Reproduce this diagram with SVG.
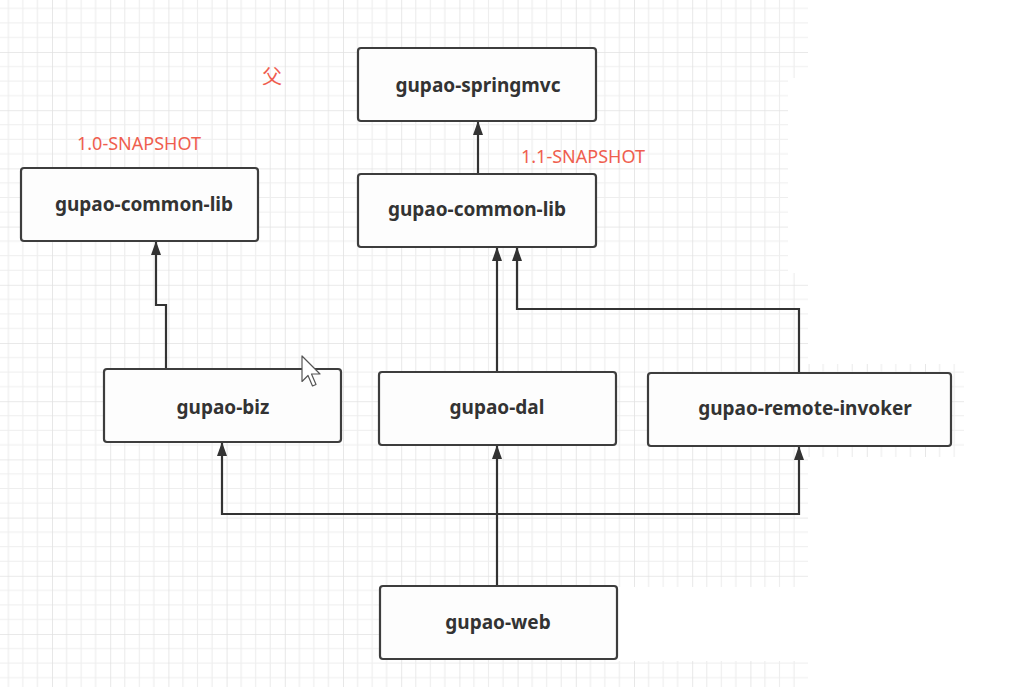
<svg xmlns="http://www.w3.org/2000/svg" width="1018" height="687" viewBox="0 0 1018 687">
<style>
.node rect{fill:#fdfdfd;stroke:#3d3d3d;stroke-width:2.2}
.node text{font-family:"Noto Sans","Liberation Sans",sans-serif;font-weight:bold;font-size:19px;fill:#333;text-anchor:middle}
.lbl{font-family:"Noto Sans","Liberation Sans",sans-serif;font-size:18px;fill:#ef5e4f}
.cn path{fill:none;stroke:#333;stroke-width:2.2}
</style>
<defs>
<pattern id="grid" patternUnits="userSpaceOnUse" x="52" y="52" width="58.2" height="58.2">
<path d="M14.55,0V58.2M29.1,0V58.2M43.65,0V58.2M0,14.55H58.2M0,29.1H58.2M0,43.65H58.2" stroke="#eeeeee" stroke-width="1.2" fill="none"/>
<path d="M0,0V58.2M0,0H58.2" stroke="#e2e2e2" stroke-width="1.6" fill="none"/>
</pattern>
<marker id="arr" viewBox="0 0 14 10" refX="13" refY="5" markerWidth="14" markerHeight="10" markerUnits="userSpaceOnUse" orient="auto">
<path d="M0,0L14,5L0,10z" fill="#333"/>
</marker>
</defs>
<rect width="1018" height="687" fill="#fff"/>
<rect width="1018" height="687" fill="url(#grid)"/>
<g id="whiteout" fill="#fff">
<rect x="808" y="0" width="210" height="78"/>
<rect x="788" y="78" width="230" height="195"/>
<rect x="808" y="273" width="210" height="91"/>
<rect x="964" y="364" width="54" height="93"/>
<rect x="808" y="457" width="210" height="230"/>
<rect x="617" y="587" width="200" height="74"/>
</g>
<g id="connectors" class="cn">
<path d="M166,369V305H156V242" marker-end="url(#arr)"/>
<path d="M478,174V122" marker-end="url(#arr)"/>
<path d="M497,372V248" marker-end="url(#arr)"/>
<path d="M799,373V309H517V248" marker-end="url(#arr)"/>
<path d="M497,586V446" marker-end="url(#arr)"/>
<path d="M497,514H222V443" marker-end="url(#arr)"/>
<path d="M497,514H799V447" marker-end="url(#arr)"/>
</g>
<g id="n-springmvc" class="node"><rect x="358" y="48" width="238" height="73" rx="3"/><text x="478" y="92">gupao-springmvc</text></g>
<g id="n-common-lib-10" class="node"><rect x="21" y="168" width="237" height="73" rx="3"/><text x="144" y="211">gupao-common-lib</text></g>
<g id="n-common-lib-11" class="node"><rect x="358" y="174" width="238" height="73" rx="3"/><text x="477" y="216">gupao-common-lib</text></g>
<g id="n-biz" class="node"><rect x="104" y="369" width="237" height="73" rx="3"/><text x="223" y="414">gupao-biz</text></g>
<g id="n-dal" class="node"><rect x="379" y="372" width="237" height="73" rx="3"/><text x="497" y="414">gupao-dal</text></g>
<g id="n-remote-invoker" class="node"><rect x="648" y="373" width="303" height="73" rx="3"/><text x="805" y="415">gupao-remote-invoker</text></g>
<g id="n-web" class="node"><rect x="380" y="586" width="237" height="73" rx="3"/><text x="498" y="629">gupao-web</text></g>
<g id="labels">
<text class="lbl" x="77" y="150">1.0-SNAPSHOT</text>
<text class="lbl" x="521" y="163">1.1-SNAPSHOT</text>
<text x="262" y="84" style="font-family:'Noto Sans CJK SC',sans-serif;font-size:20px;fill:#ef5e4f">父</text>
</g>
<g id="cursor">
<path d="M302,356V381.5L308,375.5L312.5,386L316,384.5L311.5,374H320Z" fill="#fff" stroke="#555" stroke-width="1.2" stroke-linejoin="round"/>
</g>
</svg>
